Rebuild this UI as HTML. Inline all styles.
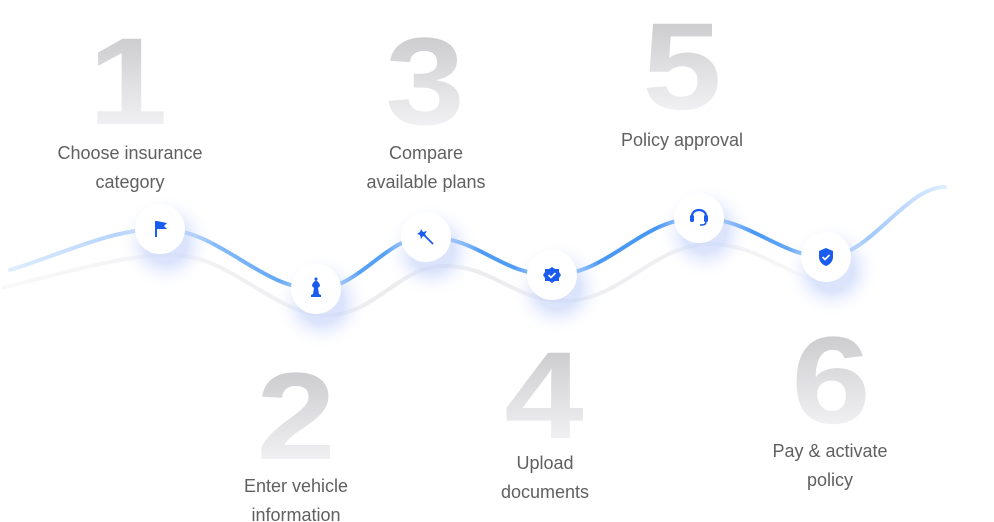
<!DOCTYPE html>
<html><head><meta charset="utf-8"><style>
html,body{margin:0;padding:0;background:#fff;}
svg{display:block;}
.num{font-family:"Liberation Sans",sans-serif;font-weight:bold;font-size:124px;text-anchor:middle;fill:url(#ng);}
.lbl{font-family:"Liberation Sans",sans-serif;font-size:18px;fill:#606060;text-anchor:middle;}
</style></head><body>
<svg width="994" height="522" viewBox="0 0 994 522" xmlns="http://www.w3.org/2000/svg">
<defs>
<linearGradient id="ng" x1="0" y1="0" x2="0" y2="1">
<stop offset="0" stop-color="#c2c2c4"/><stop offset="0.55" stop-color="#e2e2e5"/><stop offset="1" stop-color="#fafafc"/>
</linearGradient>
<linearGradient id="lg" x1="0" y1="0" x2="994" y2="0" gradientUnits="userSpaceOnUse">
<stop offset="0" stop-color="#e3efff"/><stop offset="0.15" stop-color="#a9cdfb"/><stop offset="0.3" stop-color="#5aa3f5"/><stop offset="0.75" stop-color="#4294f5"/><stop offset="0.88" stop-color="#a6ccfb"/><stop offset="0.96" stop-color="#e6f1ff"/>
</linearGradient>
<linearGradient id="gg" x1="0" y1="0" x2="994" y2="0" gradientUnits="userSpaceOnUse">
<stop offset="0" stop-color="#f8f8f9"/><stop offset="0.4" stop-color="#ebebee"/><stop offset="0.72" stop-color="#f0f0f2"/><stop offset="0.85" stop-color="#fff"/>
</linearGradient>
<radialGradient id="glow"><stop offset="0.45" stop-color="#c9d6fb" stop-opacity="0.65"/><stop offset="1" stop-color="#fff" stop-opacity="0"/></radialGradient>
</defs>

<g class="num">
<text transform="translate(128,124) scale(1.15,1)">1</text>
<text transform="translate(425,124) scale(1.15,1)">3</text>
<text transform="translate(682,109) scale(1.15,1)">5</text>
<text transform="translate(296,459) scale(1.15,1)">2</text>
<text transform="translate(544,438) scale(1.15,1)">4</text>
<text transform="translate(831,423) scale(1.15,1)">6</text>
</g>

<text class="lbl" x="130" y="159">Choose insurance</text>
<text class="lbl" x="130" y="188">category</text>
<text class="lbl" x="426" y="159">Compare</text>
<text class="lbl" x="426" y="188">available plans</text>
<text class="lbl" x="682" y="146">Policy approval</text>
<text class="lbl" x="296" y="492">Enter vehicle</text>
<text class="lbl" x="296" y="521">information</text>
<text class="lbl" x="545" y="469">Upload</text>
<text class="lbl" x="545" y="498">documents</text>
<text class="lbl" x="830" y="457">Pay &amp; activate</text>
<text class="lbl" x="830" y="486">policy</text>

<path transform="translate(12,26)" d="M-10,262 C60,245 110,229 160,229 C220,229 260,289 316,289 C360,289 385,245 426,240 C480,237 500,275 552,275 C610,275 640,218 699,218 C750,218 780,257 826,257 C870,257 905,187 945,187" fill="none" stroke="url(#gg)" stroke-width="4"/>
<path d="M10,270 C60,255 110,229 160,229 C220,229 260,289 316,289 C360,289 385,237 426,237 C480,237 500,275 552,275 C610,275 640,218 699,218 C750,218 780,257 826,257 C870,257 905,187 945,187" fill="none" stroke="url(#lg)" stroke-width="4" stroke-linecap="round"/>

<g>
<circle cx="166" cy="242" r="48" fill="url(#glow)"/>
<circle cx="322" cy="302" r="48" fill="url(#glow)"/>
<circle cx="432" cy="250" r="48" fill="url(#glow)"/>
<circle cx="558" cy="288" r="48" fill="url(#glow)"/>
<circle cx="705" cy="231" r="48" fill="url(#glow)"/>
<circle cx="832" cy="270" r="48" fill="url(#glow)"/>
</g>
<g fill="#fff">
<circle cx="160" cy="229" r="25"/>
<circle cx="316" cy="289" r="25"/>
<circle cx="426" cy="237" r="25"/>
<circle cx="552" cy="275" r="25"/>
<circle cx="699" cy="218" r="25"/>
<circle cx="826" cy="257" r="25"/>
</g>
<g fill="#1a5cf0" stroke="none">
<rect x="155" y="221" width="2" height="16"/>
<path d="M157,221 L167,223 L164,226 L167,229 L157,229 Z"/>
<path d="M311,297 L321,297 L321,295 L319,294 L318,288 L320,286 C320,283 317,281 316,280 C315,281 312,283 312,286 L314,288 L313,294 L311,295 Z"/>
<circle cx="316" cy="279" r="1.5"/>
<path d="M421,229 L423,232 L427,231 L425,234 L427,237 L423,236 L421,239 L420,235 L417,234 L420,232 Z"/>
<path d="M424,235 L433,244" stroke="#1a5cf0" stroke-width="1.8"/>
<path d="M552,267 L555,269 L559,269 L559,272 L561,275 L559,278 L559,281 L555,281 L552,283 L549,281 L545,281 L545,278 L543,275 L545,272 L545,269 L549,269 Z"/>
<path d="M548.5,275 L551,277.5 L555.5,273" stroke="#fff" stroke-width="1.6" fill="none"/>
<path d="M692,221 L692,216 C692,208 706,208 706,216 L706,221" stroke="#1a5cf0" stroke-width="2.2" fill="none"/>
<rect x="690" y="215" width="4" height="7" rx="1.5"/>
<rect x="704" y="215" width="4" height="7" rx="1.5"/>
<path d="M706,222 C706,225 703,225 700,225" stroke="#1a5cf0" stroke-width="1.5" fill="none"/>
<path d="M826,248 L833,251 L833,257 C833,262 829,265 826,266 C823,265 819,262 819,257 L819,251 Z"/>
<path d="M822.5,257 L825,259.5 L829.5,255" stroke="#fff" stroke-width="1.6" fill="none"/>
</g>
</svg>
</body></html>
